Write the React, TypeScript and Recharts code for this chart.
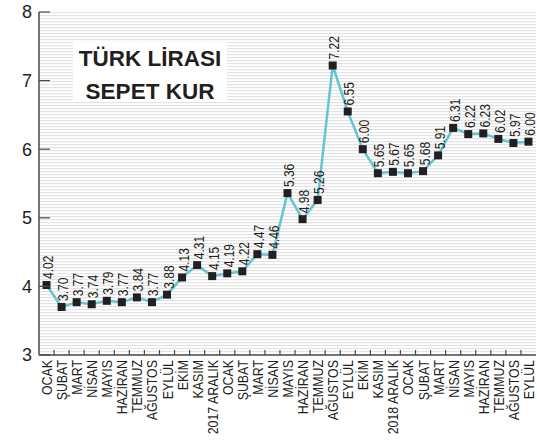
import React from 'react';
import { CartesianGrid, LabelList, Line, LineChart, XAxis, YAxis } from 'recharts';

// 2017 Ocak .. 2019 Eylül
const months = [
  'OCAK', 'ŞUBAT', 'MART', 'NİSAN', 'MAYIS', 'HAZİRAN', 'TEMMUZ', 'AĞUSTOS', 'EYLÜL', 'EKİM', 'KASIM', '2017 ARALIK',
  'OCAK', 'ŞUBAT', 'MART', 'NİSAN', 'MAYIS', 'HAZİRAN', 'TEMMUZ', 'AĞUSTOS', 'EYLÜL', 'EKİM', 'KASIM', '2018 ARALIK',
  'OCAK', 'ŞUBAT', 'MART', 'NİSAN', 'MAYIS', 'HAZİRAN', 'TEMMUZ', 'AĞUSTOS', 'EYLÜL',
];

// plotted position of each marker
const rates = [
  4.02, 3.70, 3.77, 3.74, 3.79, 3.77, 3.84, 3.77, 3.88, 4.13, 4.31, 4.15,
  4.19, 4.22, 4.47, 4.46, 5.36, 4.98, 5.26, 7.22, 6.55, 6.00, 5.65, 5.67,
  5.65, 5.68, 5.91, 6.31, 6.22, 6.23, 6.15, 6.09, 6.11,
];

// value printed next to each marker
const rateLabels = [
  '4.02', '3.70', '3.77', '3.74', '3.79', '3.77', '3.84', '3.77', '3.88', '4.13', '4.31', '4.15',
  '4.19', '4.22', '4.47', '4.46', '5.36', '4.98', '5.26', '7.22', '6.55', '6.00', '5.65', '5.67',
  '5.65', '5.68', '5.91', '6.31', '6.22', '6.23', '6.02', '5.97', '6.00',
];

const yTicks = [3, 4, 5, 6, 7, 8];

const data = months.map((name, i) => ({ name, rate: rates[i], label: rateLabels[i] }));

const W = 537;
const H = 440;
const AXIS_X = 39;
const HALF_BAND = (W - 1 - AXIS_X) / months.length / 2;
const sans = "'Liberation Sans', Arial, sans-serif";
const axisColor = '#4a4a4a';
const ink = '#231f20';

// condensed look: squeeze along the text direction
const MonthTick = (props: any) => {
  const { x, y, payload } = props;
  const index = props.index ?? payload.index;
  return (
    <g>
      {index < months.length - 1 && (
        <line x1={x + HALF_BAND} x2={x + HALF_BAND} y1={y} y2={y - 5} stroke={axisColor} strokeWidth={1.2} />
      )}
      <text
        transform={`translate(${x + 5.5},${y + 5}) rotate(-90) scale(0.8,1)`}
        textAnchor='end'
        fontFamily={sans}
        fontSize={15.5}
        fill={ink}
      >
        {payload.value}
      </text>
    </g>
  );
};

const RateTick = (props: any) => {
  const { x, y, payload } = props;
  return (
    <g>
      <line x1={x} x2={x + 11} y1={y} y2={y} stroke={axisColor} strokeWidth={1.2} />
      <text x={x - 7} y={y} dy='0.36em' textAnchor='end' fontFamily={sans} fontSize={18} fill={ink}>
        {payload.value}
      </text>
    </g>
  );
};

const SquareDot = (props: any) => {
  const { cx, cy, index } = props;
  return <rect key={index} x={cx - 4} y={cy - 4} width={8} height={8} fill={ink} />;
};

const ValueLabel = (props: any) => {
  const { x, y, value } = props;
  return (
    <text
      transform={`translate(${x + 6.5},${y - 6}) rotate(-90) scale(0.8,1)`}
      textAnchor='start'
      fontFamily={sans}
      fontSize={15}
      fill={ink}
    >
      {value}
    </text>
  );
};

export default function App() {
  return (
    <div style={{ position: 'absolute', left: 0, top: 0, width: W, height: H, background: '#fff' }}>
      <LineChart width={W} height={H} data={data} margin={{ top: 12, right: 1, left: 0, bottom: 0 }}>
        <defs>
          <pattern id='stripes' patternUnits='userSpaceOnUse' width={8} height={3}>
            <rect x={0} y={0} width={8} height={1.2} fill='#e3e3e3' />
          </pattern>
        </defs>
        <CartesianGrid horizontal={false} vertical={false} fill='url(#stripes)' />
        <XAxis
          dataKey='name'
          interval={0}
          height={H - 12 - 343}
          padding={{ left: HALF_BAND, right: HALF_BAND }}
          tickSize={0}
          tickMargin={0}
          tickLine={false}
          tick={<MonthTick />}
          stroke={axisColor}
          strokeWidth={1.5}
        />
        <YAxis
          domain={[3, 8]}
          ticks={yTicks}
          width={AXIS_X}
          tickSize={0}
          tickMargin={0}
          tickLine={false}
          tick={<RateTick />}
          stroke={axisColor}
          strokeWidth={1.5}
        />
        <Line
          type='linear'
          dataKey='rate'
          stroke='#62c7d0'
          strokeWidth={2.5}
          dot={<SquareDot />}
          activeDot={false}
          isAnimationActive={false}
        >
          <LabelList dataKey='label' content={<ValueLabel />} />
        </Line>
      </LineChart>
      <div
        style={{
          position: 'absolute',
          left: 73,
          top: 42,
          width: 154,
          height: 60,
          background: '#fff',
          textAlign: 'center',
          fontFamily: sans,
          fontWeight: 'bold',
          fontSize: 22.5,
          lineHeight: '33px',
          color: ink,
        }}
      >
        TÜRK LİRASI
        <br />
        SEPET KUR
      </div>
    </div>
  );
}
